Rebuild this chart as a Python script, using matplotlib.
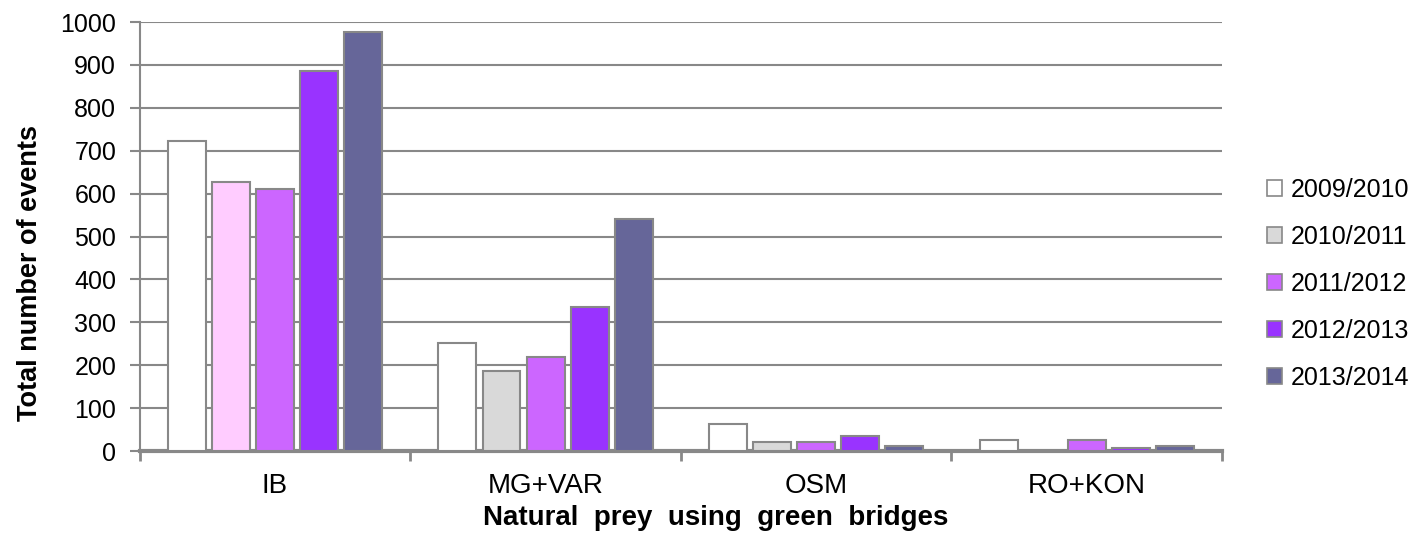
import matplotlib.pyplot as plt
import numpy as np

plt.rcParams['font.family'] = ['Liberation Sans', 'DejaVu Sans']

categories = ['IB', 'MG+VAR', 'OSM', 'RO+KON']
seasons = ['2009/2010', '2010/2011', '2011/2012', '2012/2013', '2013/2014']
values = {
    '2009/2010': [722, 253, 64, 26],
    '2010/2011': [627, 186, 21, 0],
    '2011/2012': [611, 220, 21, 26],
    '2012/2013': [886, 335, 36, 7],
    '2013/2014': [977, 540, 12, 12],
}
colors = ['#FFFFFF', '#D9D9D9', '#CC66FF', '#9933FF', '#666699']
# the IB bar of 2010/2011 is drawn pink in the original
ib_2010_color = '#FFCCFF'

fig = plt.figure(figsize=(14.26, 5.37), dpi=100)
ax = fig.add_axes([0.098, 0.160, 0.759, 0.799])

x = np.arange(len(categories))
step = 0.163
width = 0.14
handles = []
for i, s in enumerate(seasons):
    cols = [colors[i]] * len(categories)
    if s == '2010/2011':
        cols[0] = ib_2010_color
    ax.bar(x + (i - 2) * step, values[s], width, color=cols,
           edgecolor='#888888', linewidth=1.5, zorder=3)
    h = plt.Rectangle((0, 0), 1, 1, facecolor=colors[i],
                      edgecolor='#888888', linewidth=1.2)
    handles.append(h)

ax.set_xlim(-0.5, len(categories) - 0.5)
ax.set_ylim(0, 1000)
ax.set_yticks(range(0, 1001, 100))
ax.yaxis.grid(True, color='#888888', linewidth=1.5, zorder=0)
ax.set_axisbelow(True)

ax.set_xticks(np.arange(-0.5, len(categories), 1.0))
ax.set_xticklabels([])
ax.set_xticks(x, minor=True)
ax.set_xticklabels(categories, minor=True)
ax.tick_params(axis='x', which='minor', length=0, pad=16, labelsize=20)
ax.tick_params(axis='x', which='major', length=7, width=2, color='#888888')
ax.tick_params(axis='y', length=7, width=1.5, color='#888888', labelsize=18, pad=10)

for side in ['top', 'right']:
    ax.spines[side].set_visible(False)
ax.spines['left'].set_color('#888888')
ax.spines['left'].set_linewidth(1.5)
ax.spines['bottom'].set_color('#888888')
ax.spines['bottom'].set_linewidth(3)

# axis titles are centred on the figure, not on the plot area
fig.text(0.021, 0.492, 'Total number of events', rotation=90, ha='center', va='center',
         fontsize=19.5, fontweight='bold')
fig.text(0.502, 0.022, 'Natural  prey  using  green  bridges', ha='center', va='baseline',
         fontsize=20, fontweight='bold')

fig.legend(handles, seasons, loc='center left', bbox_to_anchor=(0.873, 0.472),
           frameon=False, fontsize=18, handlelength=0.6, handleheight=0.6,
           handletextpad=0.35, labelspacing=0.92)

fig.savefig('out.png', dpi=100)
